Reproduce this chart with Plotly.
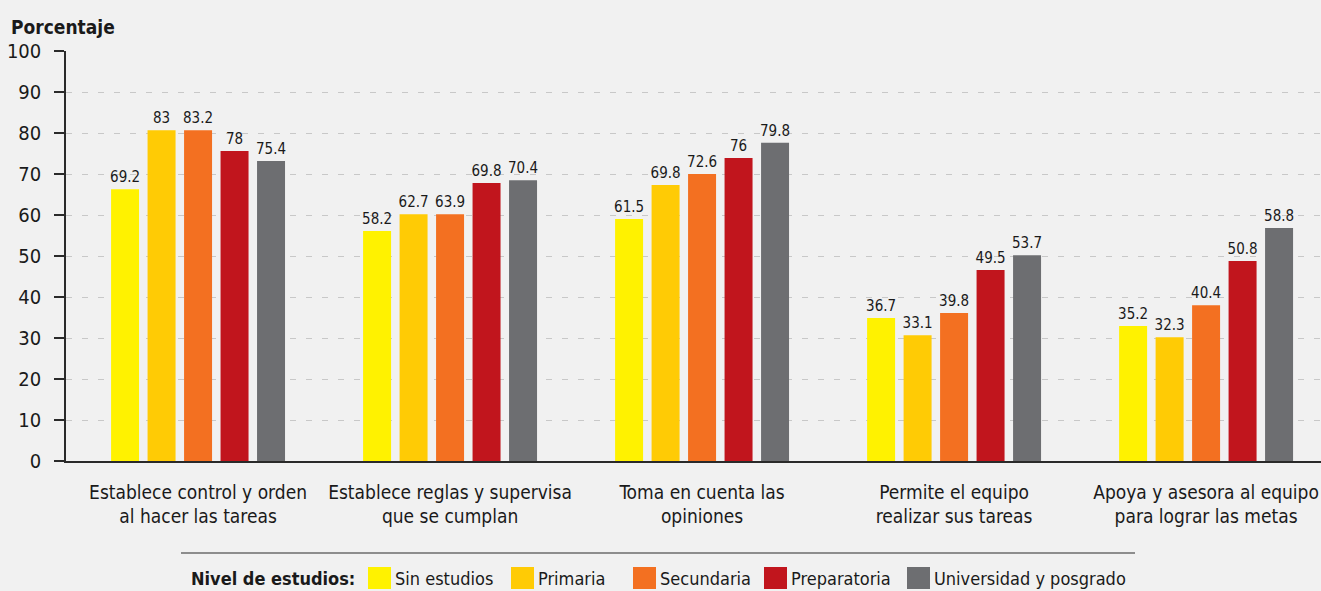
import plotly.graph_objects as go

# ---- Data ----
categorias = [
    "Establece control y orden<br>al hacer las tareas",
    "Establece reglas y supervisa<br>que se cumplan",
    "Toma en cuenta las<br>opiniones",
    "Permite el equipo<br>realizar sus tareas",
    "Apoya y asesora al equipo<br>para lograr las metas",
]
series = ["Sin estudios", "Primaria", "Secundaria", "Preparatoria", "Universidad y posgrado"]

# printed value labels
sin_estudios = [69.2, 58.2, 61.5, 36.7, 35.2]
primaria = [83, 62.7, 69.8, 33.1, 32.3]
secundaria = [83.2, 63.9, 72.6, 39.8, 40.4]
preparatoria = [78, 69.8, 76, 49.5, 50.8]
universidad = [75.4, 70.4, 79.8, 53.7, 58.8]

# bar heights as drawn in the picture
sin_estudios_h = [66.3, 56.1, 59.0, 34.9, 32.9]
primaria_h = [80.7, 60.2, 67.3, 30.7, 30.2]
secundaria_h = [80.7, 60.2, 70.0, 36.1, 38.0]
preparatoria_h = [75.6, 67.8, 73.9, 46.6, 48.8]
universidad_h = [73.2, 68.5, 77.6, 50.2, 56.8]

y_ticks = [0, 10, 20, 30, 40, 50, 60, 70, 80, 90, 100]

colores = ["#FFF200", "#FFCB05", "#F37021", "#C1151D", "#6D6E71"]

FONT = "DejaVu Sans Condensed, Liberation Sans Narrow, Roboto Condensed, sans-serif"
TXT = "#1a1a1a"
BG = "#f1f1f1"

labels_all = [sin_estudios, primaria, secundaria, preparatoria, universidad]
heights_all = [sin_estudios_h, primaria_h, secundaria_h, preparatoria_h, universidad_h]

fig = go.Figure()
for name, h, lab, col in zip(series, heights_all, labels_all, colores):
    fig.add_trace(go.Bar(
        name=name, x=categorias, y=h,
        text=[f"{v:g}" for v in lab], textposition="outside",
        textfont=dict(family=FONT, size=15, color=TXT),
        constraintext="none",
        marker=dict(color=col, line=dict(width=0)),
        cliponaxis=False, showlegend=False,
    ))

# layout geometry (pixels)
W_FIG, H_FIG = 1321, 591
L, R, T, B = 66, 0, 51, 130
PW = W_FIG - L - R
PH = H_FIG - T - B


def px(xp):
    return (xp - L) / PW


def py(yp):
    return (T + PH - yp) / PH


fig.update_layout(
    width=W_FIG, height=H_FIG,
    margin=dict(l=L, r=R, t=T, b=B, pad=0),
    paper_bgcolor=BG, plot_bgcolor=BG,
    barmode="group", bargap=0.276, bargroupgap=0.233,
    font=dict(family=FONT, color=TXT),
)
fig.update_xaxes(
    range=[-0.524, 4.456],
    showline=True, linecolor="#2a2a2a", linewidth=1.5,
    ticks="", showgrid=False,
    tickfont=dict(family=FONT, size=19, color=TXT),
    ticklabelstandoff=13,
)
fig.update_yaxes(
    range=[0, 100], tickvals=y_ticks,
    showline=True, linecolor="#2a2a2a", linewidth=1.5,
    ticks="outside", ticklen=10, tickcolor="#2a2a2a", tickwidth=1.5,
    showgrid=True, gridcolor="#c8c8c8", gridwidth=1, griddash="6px,10px",
    zeroline=False,
    tickfont=dict(family=FONT, size=20, color=TXT),
    ticklabelstandoff=9,
)

annotations = [
    dict(text="<b>Porcentaje</b>", x=px(9), y=py(27), xref="paper", yref="paper",
         xanchor="left", yanchor="middle", showarrow=False,
         font=dict(family=FONT, size=19, color=TXT)),
    dict(text="<b>Nivel de estudios:</b>", x=px(189), y=py(578), xref="paper", yref="paper",
         xanchor="left", yanchor="middle", showarrow=False,
         font=dict(family=FONT, size=18, color=TXT)),
]
shapes = [
    dict(type="line", xref="paper", yref="paper", x0=px(181), x1=px(1135),
         y0=py(553), y1=py(553), line=dict(color="#2a2a2a", width=1.2)),
]
swatch_x = [368, 511, 633, 764, 907]
for sx, name, col in zip(swatch_x, series, colores):
    shapes.append(dict(type="rect", xref="paper", yref="paper",
                       x0=px(sx), x1=px(sx + 23), y0=py(589), y1=py(567),
                       fillcolor=col, line=dict(width=0)))
    annotations.append(dict(text=name, x=px(sx + 25), y=py(578), xref="paper", yref="paper",
                            xanchor="left", yanchor="middle", showarrow=False,
                            font=dict(family=FONT, size=18, color=TXT)))

fig.update_layout(annotations=annotations, shapes=shapes)

fig.write_html(
    "out.html",
    config={"displayModeBar": False},
    post_script="document.body.style.margin='0';document.body.style.background='#f1f1f1';",
)
